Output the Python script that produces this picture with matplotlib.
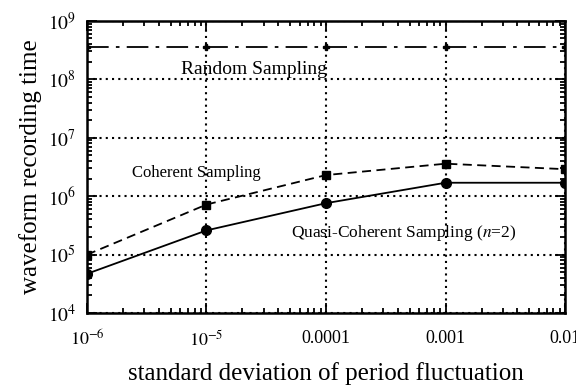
import matplotlib
matplotlib.use("Agg")
import matplotlib.pyplot as plt
from matplotlib.ticker import LogLocator, NullFormatter

plt.rcParams['font.family'] = ['Liberation Serif', 'DejaVu Serif']
plt.rcParams['mathtext.fontset'] = 'stix'

# data
sigma = [1e-6, 1e-5, 1e-4, 1e-3, 1e-2]
random_time = [3.6e8, 3.6e8, 3.6e8, 3.6e8, 3.6e8]
coherent_time = [1.0e5, 7.2e5, 2.3e6, 3.6e6, 2.9e6]
quasi_time = [4.7e4, 2.6e5, 7.6e5, 1.7e6, 1.7e6]

xtick_vals = [1e-6, 1e-5, 1e-4, 1e-3, 1e-2]
xtick_labels = ['$10^{-6}$', '$10^{-5}$', '0.0001', '0.001', '0.01']
ytick_vals = [1e4, 1e5, 1e6, 1e7, 1e8, 1e9]
ytick_labels = ['$10^{4}$', '$10^{5}$', '$10^{6}$', '$10^{7}$', '$10^{8}$', '$10^{9}$']

fig = plt.figure(figsize=(5.76, 3.87), dpi=100)
ax = fig.add_axes([0.151, 0.191, 0.830, 0.755])

ax.plot(sigma, random_time, color='k', lw=1.3, dashes=(12, 4, 2, 4),
        marker='P', ms=5)
ax.plot(sigma, coherent_time, color='k', lw=1.3, dashes=(5, 3),
        marker='s', ms=6)
ax.plot(sigma, quasi_time, color='k', lw=1.3, marker='o', ms=7)

ax.set_xscale('log')
ax.set_yscale('log')
ax.set_xlim(1e-6, 1e-2)
ax.set_ylim(1e4, 1e9)

ax.set_xticks(xtick_vals)
ax.set_xticklabels(xtick_labels, fontsize=13)
ax.set_yticks(ytick_vals)
ax.set_yticklabels(ytick_labels, fontsize=14)
ax.xaxis.set_minor_locator(LogLocator(base=10, subs=range(2, 10)))
ax.yaxis.set_minor_locator(LogLocator(base=10, subs=range(2, 10)))
ax.xaxis.set_minor_formatter(NullFormatter())
ax.yaxis.set_minor_formatter(NullFormatter())
ax.tick_params(which='both', direction='in', top=True, right=True, width=1.3)
ax.tick_params(which='major', length=7)
ax.tick_params(axis='x', which='major', pad=12)
ax.tick_params(axis='y', which='major', pad=8)
ax.tick_params(which='minor', length=3.5)
for s in ax.spines.values():
    s.set_linewidth(1.8)

ax.grid(True, which='major', color='k', ls=(0, (1, 2)), lw=1.5)

ax.set_xlabel('standard deviation of period fluctuation', fontsize=18, labelpad=9)
ax.set_ylabel('waveform recording time', fontsize=18, labelpad=4)

ax.text(2.5e-5, 1.45e8, 'Random Sampling', fontsize=14, ha='center', va='center')
ax.text(8.3e-6, 2.5e6, 'Coherent Sampling', fontsize=12, ha='center', va='center')
ax.text(4.5e-4, 2.35e5, 'Quasi-Coherent Sampling ($n$=2)', fontsize=12.5,
        ha='center', va='center')

fig.savefig('out.png', dpi=100)
